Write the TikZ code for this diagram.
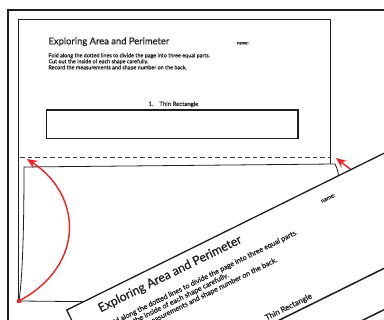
\documentclass[tikz,border=0pt]{standalone}
\usepackage{fontspec}
\newfontfamily\sheetfont[FakeBold=0.6]{Lato}
\usetikzlibrary{arrows.meta,positioning,calc}
\definecolor{inkcolor}{RGB}{30,30,30}
\definecolor{markcolor}{RGB}{235,32,36}
\tikzset{
  frameln/.style={line width=1.8pt, inkcolor},
  pageln/.style={line width=0.8pt, inkcolor, line join=round},
  edgeln/.style={line width=1.3pt, inkcolor, fill=white},
  foldln/.style={dash pattern=on 4.5pt off 3pt, line width=0.8pt, inkcolor!85},
  boxln/.style={line width=1.5pt, inkcolor},
  foldarrow/.style={-{Stealth[length=3.6mm,width=3mm]}, line width=1.4pt, markcolor},
  titletext/.style={inner sep=0pt, inkcolor, font=\sheetfont\fontsize{9.4}{10}\selectfont},
  bodytext/.style={inner sep=0pt, inkcolor, font=\sheetfont\fontsize{5.45}{6}\selectfont},
  labeltext/.style={inner sep=0pt, inkcolor, font=\sheetfont\fontsize{6}{7}\selectfont},
  smalltext/.style={inner sep=0pt, inkcolor, font=\sheetfont\fontsize{4.4}{5}\selectfont},
}
\newcommand{\sheettext}[1]{%
  \node[titletext, anchor=base west] (#1title) at (0,0) {Exploring Area and Perimeter};
  \node[smalltext, anchor=base west] (#1name) at (188.4,0) {name:};
  \foreach \y/\txt [count=\i] in {-13/{Fold along the dotted lines to divide the page into three equal parts.},
    -19/{Cut out the inside of each shape carefully.},
    -25/{Record the measurements and shape number on the back.}} {
    \node[bodytext, anchor=base west] (#1line\i) at (0,\y) {\txt};
  }
  \node[labeltext, anchor=base west] (#1shape) at (100,-61.7) {1.\quad Thin Rectangle};
  \draw[boxln] (-1.6,-65.7) rectangle (249.7,-94);
}

\begin{document}
\begin{tikzpicture}[x=1pt,y=1pt]
    \useasboundingbox (0,0) rectangle (384,320);
    \clip (0,0) rectangle (384,320);
    \draw[frameln] (8,-2) -- (8,310) -- (386,310);
    % sheet before folding
    \draw[pageln] (18,18) -- (18,301) -- (330,301) -- (330,156);
    \begin{scope}[shift={(48.3,275.7)}]
      \sheettext{u}
    \end{scope}
    \coordinate (foldL) at (20,163);
    \coordinate (foldR) at (330,163);
    \draw[foldln] (foldL) -- (foldR);
    % lower third lifted
    \coordinate (corner) at (19,19);
    \coordinate (tipL) at (27,161);
    \coordinate (tipR) at (336,162);
    \coordinate (tailR) at (354,148);
    \draw[pageln] (corner) .. controls (22,40) and (24,80) .. (24,153)
      -- (335,156) .. controls (338,150) and (339,145) .. (340,130);
    \draw[pageln] (corner) -- (120,18);
    \draw[foldarrow] (corner) .. controls (86,55) and (82,125) .. (tipL);
    \fill[markcolor] (corner) circle (2.3pt);
    \draw[foldarrow] (tailR) -- (tipR);
    % folded sheet
    \begin{scope}[shift={(100.5,7.5)}, rotate=26.3, scale=1.31, transform shape]
      \draw[edgeln] (-22.3,13.1) rectangle (340,-220);
      \sheettext{r}
    \end{scope}
  \end{tikzpicture}
\end{document}
